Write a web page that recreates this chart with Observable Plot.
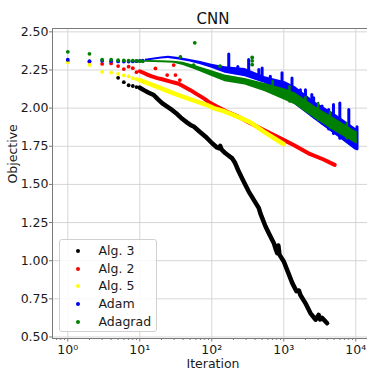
<!DOCTYPE html>
<html><head><meta charset="utf-8">
<script src="https://cdn.jsdelivr.net/npm/d3@7"></script>
<script src="https://cdn.jsdelivr.net/npm/@observablehq/plot@0.6"></script>
<style>
html,body{margin:0;padding:0;background:#fff;overflow:hidden;width:367px;height:374px;}
#wrap{position:relative;width:367px;height:374px;overflow:hidden;font-family:"DejaVu Sans",sans-serif;}
#wrap svg{max-width:none !important;}
#legend{position:absolute;left:59px;top:239px;width:98px;height:93px;border:1px solid #d0d0d0;border-radius:3px;background:rgba(255,255,255,0.85);box-sizing:border-box;}
.row{position:absolute;left:0;width:96px;height:18px;font-size:12.5px;color:#1a1a1a;line-height:18px;}
.mk{position:absolute;width:4px;height:4px;border-radius:50%;top:7px;left:15.5px;}
.lb{position:absolute;left:38.5px;top:0;white-space:nowrap;}
</style></head><body><div id="wrap"></div>
<script>
// ---- tick definitions ----
const xTicks = [1, 10, 100, 1000, 10000];
const xTickLabels = ["10\u2070", "10\u00b9", "10\u00b2", "10\u00b3", "10\u2074"];
const yTicks = [0.5, 0.75, 1.0, 1.25, 1.5, 1.75, 2.0, 2.25, 2.5];

// ---- series names / colours ----
const seriesNames = ["Alg. 3", "Alg. 2", "Alg. 5", "Adam", "Adagrad"];
const seriesColors = ["black", "red", "yellow", "blue", "green"];

// ---- Alg. 3 (black) ----
const alg3Sparse = [[5,2.199],[6,2.170],[7,2.150],[8,2.145],[9,2.138]];
const alg3Trace = [[10,2.134],[11.4,2.118],[13.1,2.103],[15.6,2.086],[17.5,2.062],[20.4,2.033],[24,2.010],[28,1.988],[33,1.961],[38.8,1.930],[45.5,1.905],[50.5,1.890],[56,1.880],[66,1.850],[82,1.813],[101,1.770],[118,1.742],[125,1.737],[131,1.752],[137,1.728],[155,1.704],[192,1.671],[211,1.640],[237,1.584],[278,1.518],[326,1.453],[383,1.399],[450,1.344],[473,1.310],[558,1.224],[620,1.180],[728,1.115],[780,1.070],[811,1.050],[840,1.100],[870,1.040],[1000,0.995],[1112,0.940],[1313,0.853],[1500,0.800],[1620,0.805],[1700,0.775],[1995,0.722],[2340,0.657],[2760,0.613],[3050,0.645],[3200,0.615],[3400,0.625],[4000,0.590]];

// ---- Alg. 2 (red) ----
const alg2Sparse = [[1,2.305],[2,2.303],[3,2.290],[4,2.293],[5,2.276],[6,2.256],[7,2.272],[8,2.262],[9,2.236]];
const alg2Trace = [[10,2.242],[11.4,2.230],[12.7,2.220],[14.7,2.208],[17.5,2.197],[20.4,2.189],[26.7,2.174],[34.7,2.160],[40.7,2.142],[50.5,2.118],[62.7,2.090],[77.5,2.064],[95.5,2.033],[119,2.009],[163,1.976],[225,1.948],[309,1.913],[526,1.857],[900,1.802],[1370,1.758],[2200,1.704],[3500,1.665],[5100,1.628]];
const alg2Outliers = [[16.5,2.260],[24,2.217],[29.6,2.282],[31.3,2.217],[36,2.184]];

// ---- Alg. 5 (yellow) ----
const alg5Sparse = [[1,2.300],[2,2.283],[3,2.238],[4,2.233],[5,2.224],[6,2.215],[7,2.208],[8,2.196],[9,2.190]];
const alg5Trace = [[10,2.184],[17.5,2.140],[29.6,2.097],[36.7,2.080],[50.5,2.058],[86,2.020],[106,2.000],[147,1.980],[250,1.936],[345,1.906],[526,1.846],[950,1.770],[1000,1.765]];

// ---- Adam (blue): iteration, low, high ----
const adamSparse = [[1,2.317],[2,2.308],[3,2.310],[4,2.308],[5,2.306],[6,2.305],[7,2.305],[8,2.306],[9,2.308],[10,2.310],[11,2.312]];
const adamBand = [[12,2.308,2.320],[20,2.322,2.336],[25,2.325,2.340],[35,2.316,2.332],[50,2.302,2.318],[70,2.285,2.305],[100,2.262,2.288],[153,2.228,2.271],[290,2.206,2.260],[550,2.162,2.206],[1050,2.086,2.173],[1450,2.020,2.140],[2720,1.922,2.040],[5200,1.824,1.960],[9800,1.726,1.870],[10800,1.720,1.860]];
const adamSpikes = [[172,2.25,2.352],[230,2.23,2.27],[325,2.21,2.315],[450,2.19,2.25],[500,2.18,2.26],[650,2.15,2.206],[945,2.10,2.228],[1300,2.05,2.195],[1700,2.03,2.118],[2000,2.00,2.118],[2450,1.95,2.086],[2600,1.94,2.064],[3400,1.90,2.01],[4200,1.86,1.988],[4900,1.83,2.02],[6000,1.80,2.031],[8000,1.77,1.988],[10400,1.73,1.874]];

// ---- Adagrad (green): iteration, low, high ----
const adagradSparse = [[1,2.369],[2,2.356],[3,2.317],[4,2.317],[5,2.314],[6,2.313],[7,2.312],[8,2.311],[9,2.310],[10,2.308],[11,2.307]];
const adagradBand = [[12,2.300,2.312],[20,2.298,2.310],[30,2.294,2.308],[40,2.280,2.300],[60,2.250,2.278],[100,2.208,2.245],[153,2.173,2.217],[290,2.151,2.195],[550,2.107,2.162],[1050,2.050,2.125],[1450,2.020,2.100],[2720,1.930,2.010],[5200,1.846,1.930],[9800,1.770,1.850],[10500,1.765,1.845]];
const adagradSpikes = [[700,2.10,2.175],[1200,2.04,2.14],[2000,1.98,2.07],[3000,1.92,2.03],[4400,1.87,1.97],[7500,1.80,1.90]];
const adagradOutliers = [[36.7,2.336],[58,2.428],[56,2.282],[364,2.332],[364,2.310],[364,2.285],[130,2.275]];

const X = d => d[0], Y = d => d[1], LO = d => d[1], HI = d => d[2];
const R = 1.9;
const xDomain = [Math.pow(10, -0.2125), Math.pow(10, 4.246)];
const minorTicks = [];
for (let k = -1; k <= 4; k++) for (let m = 2; m <= 9; m++) {
  const v = m * Math.pow(10, k);
  if (v > xDomain[0] && v < xDomain[1]) minorTicks.push(v);
}
const axisColor = "#7a7a7a";

const chart = Plot.plot({
  width: 374, height: 374,
  marginLeft: 52, marginRight: 1, marginTop: 28, marginBottom: 36,
  x: {type: "log", domain: xDomain},
  y: {domain: [0.49, 2.522]},
  style: {fontFamily: "DejaVu Sans", fontSize: "12.5px", color: "#1a1a1a", background: "white", overflow: "visible"},
  marks: [
    Plot.gridX(xTicks, {stroke: "#d6d6d6", strokeOpacity: 1}),
    Plot.gridY(yTicks, {stroke: "#d6d6d6", strokeOpacity: 1}),
    Plot.axisX(minorTicks, {tickSize: 2, tickFormat: () => "", stroke: axisColor, label: null}),
    Plot.axisX(xTicks, {tickSize: 3.5, tickPadding: 3, tickFormat: d => xTickLabels[xTicks.indexOf(d)], stroke: axisColor, label: null}),
    Plot.axisY(yTicks, {tickSize: 3, tickPadding: 1, tickFormat: d3.format(".2f"), stroke: axisColor, label: null}),
    // Alg. 3
    Plot.dot(alg3Sparse, {x: X, y: Y, r: R, fill: seriesColors[0]}),
    Plot.line(alg3Trace, {x: X, y: Y, stroke: seriesColors[0], strokeWidth: 4.5, strokeLinejoin: "round", strokeLinecap: "round"}),
    // Alg. 2
    Plot.dot(alg2Sparse, {x: X, y: Y, r: R, fill: seriesColors[1]}),
    Plot.dot(alg2Outliers, {x: X, y: Y, r: R, fill: seriesColors[1]}),
    Plot.line(alg2Trace, {x: X, y: Y, stroke: seriesColors[1], strokeWidth: 4, strokeLinejoin: "round", strokeLinecap: "round"}),
    // Alg. 5
    Plot.dot(alg5Sparse, {x: X, y: Y, r: R, fill: seriesColors[2]}),
    Plot.line(alg5Trace, {x: X, y: Y, stroke: seriesColors[2], strokeWidth: 4.5, strokeLinejoin: "round", strokeLinecap: "round"}),
    // Adam
    Plot.dot(adamSparse, {x: X, y: Y, r: R, fill: seriesColors[3]}),
    Plot.areaY(adamBand, {x: X, y1: LO, y2: HI, fill: seriesColors[3]}),
    Plot.ruleX(adamSpikes, {x: X, y1: LO, y2: HI, stroke: seriesColors[3], strokeWidth: 3, strokeLinecap: "round"}),
    // Adagrad
    Plot.dot(adagradSparse, {x: X, y: Y, r: R, fill: seriesColors[4]}),
    Plot.areaY(adagradBand, {x: X, y1: LO, y2: HI, fill: seriesColors[4]}),
    Plot.ruleX(adagradSpikes, {x: X, y1: LO, y2: HI, stroke: seriesColors[4], strokeWidth: 2.5, strokeLinecap: "round"}),
    Plot.dot(adagradOutliers, {x: X, y: Y, r: R, fill: seriesColors[4]}),
    Plot.frame({stroke: axisColor}),
    // title and axis labels
    Plot.text(["CNN"], {frameAnchor: "top", dy: -4.7, lineAnchor: "bottom", fontSize: 15, fill: "#111"}),
    Plot.text(["Iteration"], {frameAnchor: "bottom", dy: 29.5, lineAnchor: "bottom", fontSize: 12.5, fill: "#1a1a1a"}),
    Plot.text(["Objective"], {frameAnchor: "left", dx: -36, lineAnchor: "bottom", rotate: -90, fontSize: 12.5, fill: "#1a1a1a"})
  ]
});
chart.style.maxWidth = "none";
const wrap = document.getElementById("wrap");
wrap.appendChild(chart);

// legend
const legend = document.createElement("div");
legend.id = "legend";
seriesNames.forEach((name, i) => {
  const row = document.createElement("div");
  row.className = "row";
  row.style.top = (2 + i * 17.7) + "px";
  const mk = document.createElement("span");
  mk.className = "mk";
  mk.style.background = seriesColors[i];
  const lb = document.createElement("span");
  lb.className = "lb";
  lb.textContent = name;
  row.appendChild(mk); row.appendChild(lb);
  legend.appendChild(row);
});
wrap.appendChild(legend);
</script></body></html>
